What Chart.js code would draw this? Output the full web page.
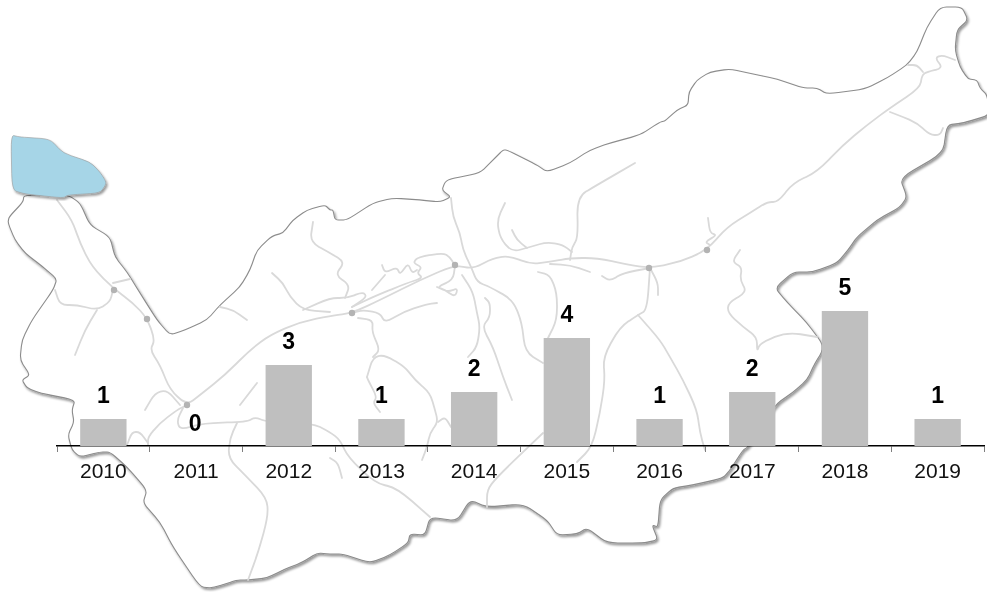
<!DOCTYPE html>
<html>
<head>
<meta charset="utf-8">
<style>
html,body{margin:0;padding:0;background:#fff;width:987px;height:592px;overflow:hidden}
#map,#c{position:absolute;left:0;top:0}
.r{fill:none;stroke:#d9d9d9;stroke-width:1.8;stroke-linejoin:round;stroke-linecap:round}
</style>
<script src="https://cdn.jsdelivr.net/npm/chart.js@4"></script>
</head>
<body>
<svg id="map" width="987" height="592" viewBox="0 0 987 592">
<defs>
<filter id="s" x="-5%" y="-5%" width="110%" height="110%"><feDropShadow dx="1.5" dy="2" stdDeviation="1" flood-color="#000" flood-opacity=".4"/></filter>
</defs>
<polygon filter="url(#s)" fill="#fff" stroke="#8c8c8c" stroke-width="1.1" stroke-linejoin="round" points="68,195 80,203 90,225 110,237 115,257 127,272 140,293 157,320 170,335 185,330 207,320 220,305 240,287 250,270 257,250 272,236 283,233 293,220 307,210 325,205 330,210 333,210 335,220 347,220 373,203 393,198 420,200 440,202 451,197 442,190 445,182 450,179 480,173 493,160 503,150 507,150 537,165 547,172 570,163 590,150 610,143 640,135 660,122 665,121 677,110 688,105 689,92 697,80 710,72 730,69 753,74 777,79 803,88 817,88 827,94 865,89 887,78 907,65 917,52 927,27 940,7 962,7 968,20 957,30 955,50 960,67 968,79 977,80 980,88 987,95 990,115 963,123 947,125 943,153 900,178 907,197 900,207 877,220 857,237 848,250 837,263 813,272 793,272 775,288 787,302 807,323 822,343 822,352 815,363 807,380 792,393 776,404 748,447 743,450 730,470 723,478 693,485 673,488 660,500 658,527 652,525 658,540 643,543 607,543 587,528 577,534 557,535 547,520 523,504 487,507 470,500 457,521 430,517 425,535 410,534 408,543 390,555 370,563 343,554 330,554 317,553 303,562 283,570 267,578 248,580 237,580 213,588 200,587 173,547 160,522 143,503 147,490 127,467 110,452 100,452 80,457 72,450 68,435 74,422 72,410 75,400 40,393 27,388 22,380 30,375 20,360 22,340 32,320 53,290 57,279 43,267 25,253 15,240 8,223 9,217 23,202 24,195"/>
<g>
<polyline class="r" points="57,200 72,220 80,243 92,267 113,288 133,303 147,318 155,340 150,350 160,365 170,390 187,405 200,395 225,375 250,350 270,335 300,322 330,316 352,313 380,300 420,280 455,265 473,269 493,258 510,256 530,264 550,262 570,258 597,258 630,265 650,268 680,262 707,250 727,227 750,213 767,202 778,202 793,183 817,172 843,145 867,125 890,108 920,88 922,75 927,72 943,68 935,58 942,55 955,60"/>
<polyline class="r" points="908,65 917,65 923,72"/>
<polyline class="r" points="890,112 903,117 917,123 930,135 940,135 943,128"/>
<polyline class="r" points="451,198 453,217 460,233 463,250 472,269 477,282 490,287 513,300 522,323 525,352 543,363"/>
<polyline class="r" points="570,260 572,247 578,238 577,197 597,185 635,163"/>
<polyline class="r" points="505,203 497,220 500,238 512,252 530,247 547,242 563,245 572,252"/>
<polyline class="r" points="512,230 517,240 527,248"/>
<polyline class="r" points="538,272 550,275 557,293 557,320 548,338"/>
<polyline class="r" points="550,264 570,265 590,272"/>
<polyline class="r" points="602,276 610,281 623,273 650,268"/>
<polyline class="r" points="650,268 647,310 638,315 620,327 603,357 605,380 600,413 592,447 577,462"/>
<polyline class="r" points="638,315 660,340 670,357 683,380 697,410 700,433 705,450"/>
<polyline class="r" points="462,275 473,292 477,313 480,327 477,347 468,357"/>
<polyline class="r" points="485,298 490,303 490,317 482,327 493,347 503,377 512,400"/>
<polyline class="r" points="367,377 373,357 385,355 405,367 415,380 430,393 435,410 438,422 430,433 427,447 422,460"/>
<polyline class="r" points="438,422 445,417 451,427"/>
<polyline class="r" points="367,377 368,380 377,397 373,403 380,412"/>
<polyline class="r" points="373,357 380,350 372,332 373,320 358,318"/>
<polyline class="r" points="352,307 373,297 407,283 423,278 417,273 422,267 413,263 418,257 443,253 450,257 455,266"/>
<polyline class="r" points="352,313 363,310 380,313 385,323 403,312 427,304 437,303"/>
<polyline class="r" points="303,310 330,298 347,298 363,292 367,297 352,307"/>
<polyline class="r" points="272,273 283,283 290,297 303,310 330,312"/>
<polyline class="r" points="313,222 310,242 330,253 345,262 335,275 350,285 345,298"/>
<polyline class="r" points="382,265 385,273 397,267 400,275 408,263 412,273 417,270"/>
<polyline class="r" points="385,275 372,290"/>
<polyline class="r" points="437,287 448,292 458,288 455,297 445,290 437,287 453,280 455,266"/>
<polyline class="r" points="113,290 110,302 97,310 77,305 60,305 55,290"/>
<polyline class="r" points="97,310 85,330 75,355"/>
<polyline class="r" points="113,283 130,279"/>
<polyline class="r" points="187,405 177,410 160,423 148,437 148,445"/>
<polyline class="r" points="183,408 177,420 180,430 203,423 247,422 255,417 267,422 312,423 330,432 340,440 348,457 375,483 397,488 430,517"/>
<polyline class="r" points="237,423 230,438 228,458 245,475 267,498 268,517 258,553 248,580"/>
<polyline class="r" points="145,410 155,393 167,390 180,405"/>
<polyline class="r" points="240,405 257,383"/>
<polyline class="r" points="127,445 132,432 140,432 148,443"/>
<polyline class="r" points="487,507 487,490 497,477 543,433"/>
<polyline class="r" points="330,458 338,463 342,478"/>
<polyline class="r" points="740,250 732,262 742,267 740,280 747,292 728,303 728,313 743,327 757,337 757,352 760,343 787,332 817,337"/>
<polyline class="r" points="708,218 710,233 717,235 705,242 710,245"/>
<polyline class="r" points="650,268 658,283 658,295"/>
<polyline class="r" points="220,307 233,310 247,320"/>
</g>
<g fill="#b3b3b3">
<circle cx="114" cy="290" r="3.2"/><circle cx="147" cy="319" r="3.2"/><circle cx="187" cy="405" r="3.2"/><circle cx="352" cy="313" r="3.2"/><circle cx="455" cy="265" r="3.2"/><circle cx="649" cy="268" r="3.2"/><circle cx="707" cy="250" r="3.2"/>
</g>
<polygon filter="url(#s)" fill="#a6d5e7" stroke="#9a9a9a" stroke-width=".6" stroke-linejoin="round" points="11,135 20,137 50,139 63,153 90,162 100,172 107,183 100,193 68,195 63,198 25,194 12,190"/>
</svg>
<canvas id="c" width="987" height="592"></canvas>
<script>
const categories = ['2010','2011','2012','2013','2014','2015','2016','2017','2018','2019'];
const counts = [1,0,3,1,2,4,1,2,5,1];
const axisMax = 6;

// round the corners of the hand-traced background map
function smoothMap(el, t, closed){
  const p = el.getAttribute('points').trim().split(/\s+/).map(s=>s.split(',').map(Number));
  const n = p.length;
  const lerp = (a,b,k)=>[a[0]+(b[0]-a[0])*k, a[1]+(b[1]-a[1])*k];
  let d = '';
  if(closed){
    d = 'M'+lerp(p[0],p[1],t).join(' ');
    for(let i=1;i<=n;i++){
      const cur=p[i%n], prev=p[i-1], next=p[(i+1)%n];
      d += 'L'+lerp(prev,cur,1-t).join(' ')+'Q'+cur.join(' ')+' '+lerp(cur,next,t).join(' ');
    }
    d += 'Z';
  } else {
    d = 'M'+p[0].join(' ');
    for(let i=1;i<n-1;i++){
      d += 'L'+lerp(p[i-1],p[i],1-t).join(' ')+'Q'+p[i].join(' ')+' '+lerp(p[i],p[i+1],t).join(' ');
    }
    d += 'L'+p[n-1].join(' ');
  }
  const path = document.createElementNS('http://www.w3.org/2000/svg','path');
  for(const a of el.attributes){ if(a.name!=='points') path.setAttribute(a.name,a.value); }
  path.setAttribute('d',d);
  el.replaceWith(path);
}
document.querySelectorAll('#map polyline').forEach(e=>smoothMap(e,0.45,false));
document.querySelectorAll('#map polygon').forEach(e=>smoothMap(e,0.3,true));

const valueLabels = {
  id:'valueLabels',
  afterDatasetsDraw(chart){
    const ctx = chart.ctx;
    const bars = chart.getDatasetMeta(0).data;
    ctx.save();
    ctx.font = 'bold 23px "Liberation Sans", Arial, sans-serif';
    ctx.fillStyle = '#000';
    ctx.textAlign = 'center';
    ctx.textBaseline = 'alphabetic';
    bars.forEach((b,i)=>{
      const off = counts[i] === 0 ? 15 : 16.5;
      ctx.fillText(String(counts[i]), b.x - (counts[i] === 0 ? 1 : 0), b.y - off);
    });
    ctx.restore();
  }
};

new Chart(document.getElementById('c'),{
  type:'bar',
  data:{labels:categories,datasets:[{data:counts,backgroundColor:'#bfbfbf',barPercentage:0.5,categoryPercentage:1,borderWidth:0}]},
  options:{
    responsive:false,
    animation:false,
    layout:{padding:{left:57,right:3,top:284,bottom:0}},
    plugins:{legend:{display:false},title:{display:false},tooltip:{enabled:false}},
    scales:{
      x:{
        afterFit(s){s.height=146;},
        grid:{offset:true,drawOnChartArea:false,drawTicks:true,tickLength:6,tickColor:'#7f7f7f',tickWidth:1},
        border:{color:'#000',width:1.5},
        ticks:{color:'#111',font:{family:'"Liberation Sans", Arial, sans-serif',size:21},padding:8,autoSkip:false,maxRotation:0,minRotation:0}
      },
      y:{display:false,min:0,max:axisMax}
    }
  },
  plugins:[valueLabels]
});
</script>
</body>
</html>
